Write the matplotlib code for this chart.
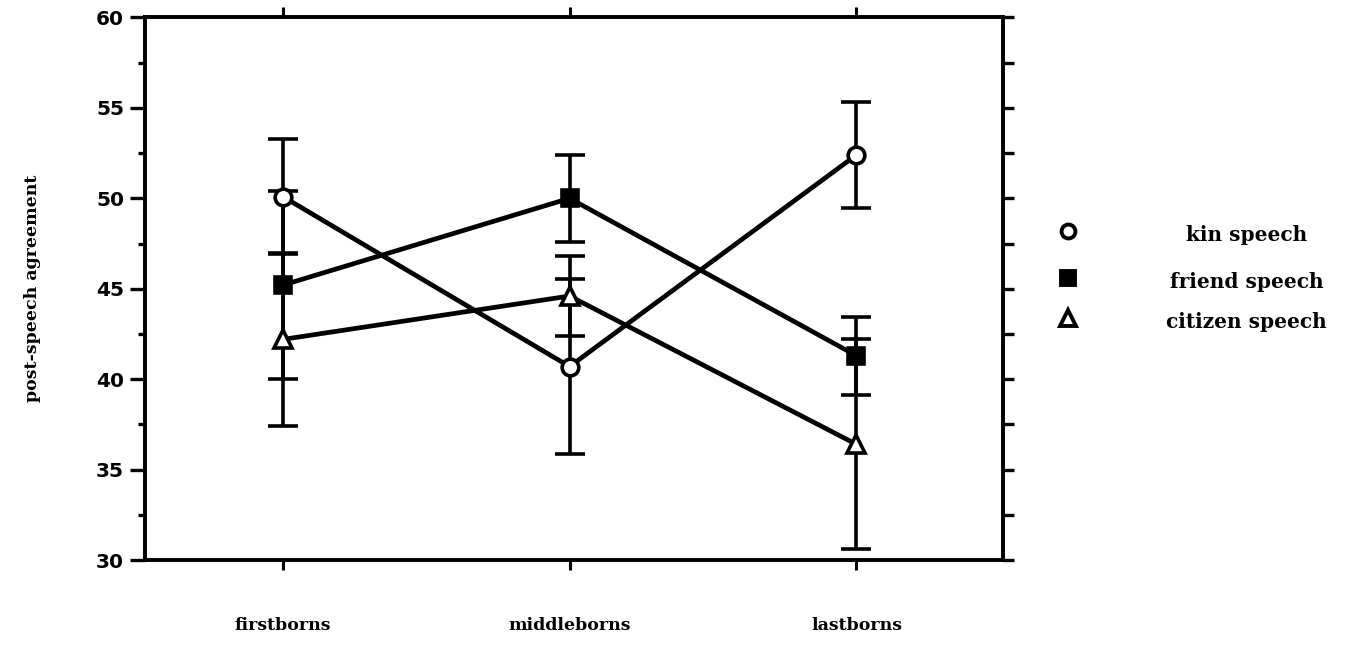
import matplotlib

matplotlib.use("Agg")
import matplotlib.pyplot as plt
import numpy as np
from matplotlib.ticker import MultipleLocator

categories = ["firstborns", "middleborns", "lastborns"]

kin = [50.1, 40.7, 52.4]
kin_err = [3.2, 4.85, 2.95]
friend = [45.2, 50.0, 41.3]
friend_err = [5.2, 2.4, 2.15]
citizen = [42.2, 44.6, 36.4]
citizen_err = [4.8, 2.2, 5.8]

legend_labels = ["kin speech", "friend speech", "citizen speech"]

SERIF = ["DejaVu Serif"]
SANS = ["DejaVu Sans"]

fig = plt.figure(figsize=(13.68, 6.70), dpi=100)
ax = fig.add_axes([0.106, 0.164, 0.627, 0.810])

x = np.arange(len(categories))
series = [
    (kin, kin_err, dict(marker="o", mfc="white", ms=12)),
    (friend, friend_err, dict(marker="s", mfc="black", ms=12)),
    (citizen, citizen_err, dict(marker="^", mfc="white", ms=13)),
]
for vals, err, mk in series:
    ax.errorbar(
        x, vals, yerr=err, color="black", lw=3.4, elinewidth=2.6,
        capsize=11, capthick=3, mec="black", mew=2.6, zorder=3, **mk,
    )

ax.set_xlim(-0.48, 2.51)
ax.set_ylim(30, 60)

# y axis: labelled majors + short minors on the left, uniform ticks on the right
ax.yaxis.set_major_locator(MultipleLocator(5))
ax.yaxis.set_minor_locator(MultipleLocator(2.5))
ax.tick_params(axis="y", which="major", direction="out", length=11, width=2.4,
               labelsize=14.5, pad=4)
ax.tick_params(axis="y", which="minor", direction="out", length=5, width=2.4)
for lab in ax.get_yticklabels():
    lab.set_fontfamily(SANS)
    lab.set_fontweight("bold")

ax2 = ax.twinx()
ax2.set_ylim(30, 60)
ax2.yaxis.set_major_locator(MultipleLocator(2.5))
ax2.tick_params(axis="y", direction="out", length=8, width=2.4, labelright=False)

ax.set_xticks(x)
ax.set_xticklabels(categories, fontfamily=SERIF, fontweight="bold", fontsize=12.5)
ax.tick_params(axis="x", direction="out", length=7, width=2.2, top=True, pad=34)

for a in (ax, ax2):
    for spine in a.spines.values():
        spine.set_linewidth(2.6)

ax.set_ylabel("post-speech agreement", fontfamily=SERIF, fontweight="bold",
              fontsize=12.5, labelpad=40)

# legend: markers in one column, centred labels to the right
lax = fig.add_axes([0.76, 0.164, 0.24, 0.810])
lax.set_xlim(0, 1)
lax.set_ylim(30, 60)
lax.axis("off")
legend_y = [48.2, 45.6, 43.4]
for (vals, err, mk), lab, ly in zip(series, legend_labels, legend_y):
    lax.plot([0.085], [ly], color="black", mec="black", mew=2.8,
             **{**mk, "ms": mk["ms"] - 2})
    lax.text(0.63, ly - 0.25, lab, ha="center", va="center",
             fontfamily=SERIF, fontweight="bold", fontsize=14.5)

fig.savefig("out.png", dpi=100, facecolor="white")
